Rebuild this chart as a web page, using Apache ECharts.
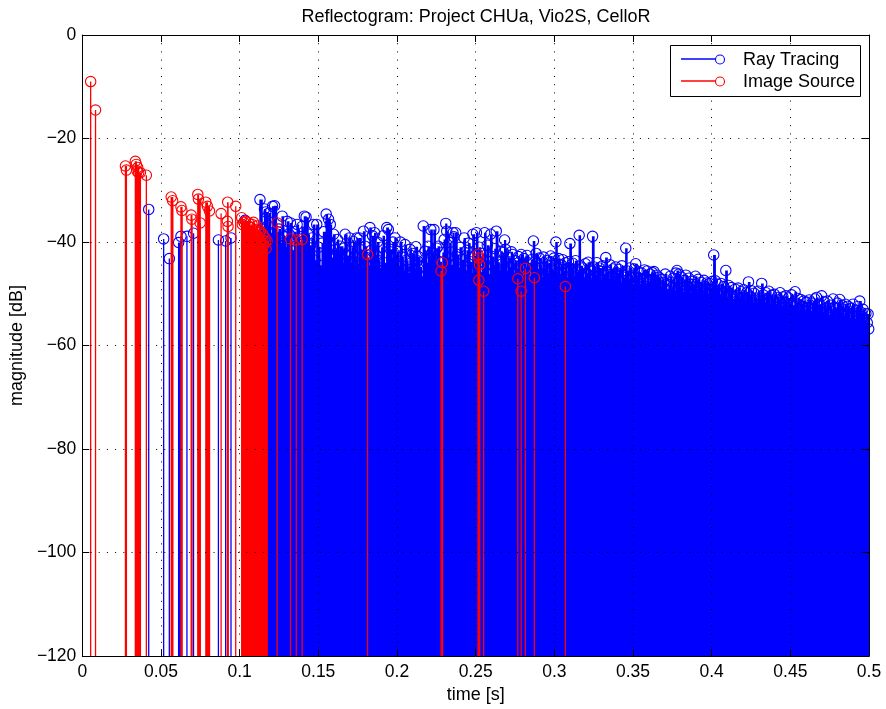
<!DOCTYPE html>
<html><head><meta charset="utf-8">
<script src="https://cdn.jsdelivr.net/npm/echarts@6/dist/echarts.min.js"></script>
<style>html,body{margin:0;padding:0;background:#fff}#c{width:886px;height:709px}</style>
</head><body><div id="c"></div>
<script>
const chartTitle = 'Reflectogram: Project CHUa, Vio2S, CelloR';
const seriesNames = ['Ray Tracing', 'Image Source'];
const xName = 'time [s]';
const yName = 'magnitude [dB]';
const xTicks = [0, 0.05, 0.1, 0.15, 0.2, 0.25, 0.3, 0.35, 0.4, 0.45, 0.5];
const yTicks = [-120, -100, -80, -60, -40, -20, 0];

// [time in ms, magnitude in dB]
const rayTracing = [
[42.2,-33.7],[51.7,-39.4],[55.3,-43.2],[61.2,-40.1],[62.7,-38.9],[66.5,-38.9],[70.7,-38.3],[86.5,-39.6],[91.1,-39.8],[94.5,-39.2],
[103.4,-35.8],[105.9,-38.6],[108.1,-40.2],[110.2,-39.0],[112.9,-31.8],[114.3,-37.5],[115.8,-33.6],[116.6,-34.2],[117.9,-36.8],[118.6,-34.4],
[119.7,-38.2],[120.9,-33.1],[122.2,-33.0],[123.4,-41.1],[124.2,-38.0],[125.0,-37.5],[126.0,-40.2],[127.0,-35.0],[127.8,-38.8],[128.5,-39.0],
[129.4,-41.0],[130.2,-36.0],[131.3,-38.4],[132.3,-36.3],[133.3,-41.7],[134.8,-38.0],[135.7,-40.8],[136.5,-36.6],[137.4,-39.2],[138.2,-40.5],
[139.6,-37.0],[140.4,-39.8],[141.1,-35.0],[142.2,-35.2],
[143.5,-38.5],[144.3,-42.0],[145.1,-40.6],[146.0,-39.2],[146.9,-36.6],[147.8,-43.5],[149.0,-36.6],[150.2,-41.0],[151.0,-44.5],[152.4,-40.2],
[153.3,-38.0],[155.0,-34.6],[155.8,-41.8],[156.5,-35.6],[157.6,-36.6],[158.4,-43.0],[159.7,-38.5],[160.6,-41.5],[161.5,-45.0],[162.2,-39.5],
[162.9,-42.1],[164.0,-40.8],[165.6,-44.0],[166.3,-41.2],[167.0,-38.5],[168.2,-42.6],[169.8,-39.2],[170.7,-43.8],[171.6,-41.0],[172.3,-39.9],
[173.5,-42.8],[174.5,-39.2],[175.3,-44.2],[176.1,-39.2],[177.0,-41.5],[178.7,-37.9],[179.7,-40.8],[180.6,-43.0],[181.8,-44.5],[182.8,-37.2],
[183.6,-41.6],[184.5,-38.8],[185.8,-38.2],[186.7,-42.5],[187.6,-40.0],[188.5,-43.6],[189.2,-45.0],[190.3,-41.0],[191.2,-38.8],[192.0,-44.0],
[193.5,-37.2],[194.5,-37.6],[195.6,-41.4],[196.6,-43.2],[197.4,-40.0],[198.7,-39.2],[199.5,-42.5],
[200.4,-41.8],[201.3,-44.6],[202.2,-40.0],[203.1,-42.9],[204.0,-45.5],[205.1,-40.5],[206.0,-43.5],[207.0,-46.0],[208.2,-41.4],[209.1,-44.0],
[210.0,-42.2],[211.1,-45.2],[212.0,-40.9],[213.0,-43.6],[213.5,-42.8],[214.6,-44.8],[215.6,-46.6],[216.3,-46.9],[216.7,-36.9],[217.8,-41.8],
[218.7,-44.0],[219.8,-40.8],[220.8,-43.2],[221.5,-37.6],[222.4,-42.0],[223.5,-37.6],[224.4,-44.5],[225.3,-41.2],[226.2,-40.8],[227.1,-43.8],
[228.3,-45.6],[229.2,-42.0],[230.0,-39.5],[231.0,-36.4],[231.6,-37.9],[232.5,-43.0],[233.5,-40.1],[234.4,-44.4],[235.6,-38.2],[236.2,-39.0],
[237.3,-38.2],[238.2,-42.4],[239.2,-44.9],[240.1,-41.0],[241.2,-43.4],[242.7,-39.2],[243.5,-45.5],[244.5,-41.6],[245.5,-40.2],[246.4,-43.8],
[247.4,-46.0],[248.2,-38.5],[249.2,-42.6],[250.5,-38.2],
[251.4,-44.2],[252.3,-41.0],[253.2,-45.8],[254.3,-42.2],[255.7,-38.2],[256.5,-43.5],[257.4,-40.6],[258.4,-46.2],[259.5,-38.5],[260.4,-42.8],
[261.3,-44.6],[262.2,-41.3],[263.1,-37.9],[264.1,-43.9],[265.0,-45.4],[266.0,-41.8],[266.9,-44.2],[267.8,-42.0],[268.4,-39.6],[269.0,-41.4],
[270.0,-45.8],[270.9,-43.0],[271.8,-44.8],[272.7,-41.9],[273.4,-42.4],[274.4,-46.0],[275.3,-43.6],[276.3,-45.2],[277.2,-42.8],[278.1,-44.6],
[278.9,-42.4],[279.8,-46.4],[280.7,-43.2],[281.7,-45.0],[282.6,-42.6],[283.5,-44.0],[284.5,-46.6],[285.4,-43.4],[286.7,-39.8],[287.5,-44.8],
[288.4,-42.2],[289.4,-45.6],[290.5,-43.1],[291.3,-44.4],[292.2,-46.8],[293.1,-42.9],[294.0,-45.0],[295.0,-43.6],[295.9,-46.2],[296.8,-44.0],
[297.7,-42.7],[298.6,-45.4],[299.8,-43.1],[301.0,-40.0],
[301.8,-45.8],[302.7,-43.2],[303.6,-46.4],[304.5,-44.4],[305.3,-43.4],[306.2,-45.6],[307.2,-44.0],[308.1,-46.8],[309.0,-43.8],[309.9,-40.3],
[310.8,-45.2],[311.7,-44.1],[312.6,-46.6],[313.5,-43.6],[314.5,-45.8],[315.8,-38.7],[316.6,-44.6],[317.9,-45.0],[318.8,-47.0],[319.7,-44.2],
[320.6,-46.0],[321.5,-43.9],[322.4,-45.4],[323.3,-47.2],[324.3,-38.9],[325.2,-44.8],[326.1,-46.4],[327.0,-44.0],[328.0,-45.5],[328.5,-45.0],
[329.8,-47.4],[330.7,-44.6],[331.6,-46.2],[332.7,-43.0],[333.6,-45.8],[334.5,-47.0],[335.4,-44.4],[336.3,-46.6],[337.2,-45.2],[338.1,-47.6],
[339.0,-44.8],[340.0,-46.0],[341.1,-45.3],[342.0,-47.8],[342.9,-44.6],[343.8,-46.8],[345.4,-41.2],[346.2,-45.6],[347.1,-47.2],[348.0,-45.0],
[349.0,-46.4],[349.9,-48.0],
[350.8,-45.2],[351.7,-44.2],[352.6,-47.0],[353.5,-45.8],[354.5,-48.2],[355.4,-46.0],[356.3,-47.4],[357.2,-45.4],[358.1,-48.6],[359.0,-45.6],
[359.9,-47.6],[360.8,-46.2],[361.7,-48.8],[362.2,-45.9],[363.3,-45.7],[364.2,-47.8],[365.1,-46.4],[366.5,-46.8],[367.4,-49.0],[368.3,-47.2],
[369.6,-47.8],[370.5,-46.2],[371.4,-49.2],[372.8,-48.2],[373.7,-46.6],[374.6,-48.8],[375.5,-47.0],[376.4,-49.4],[377.3,-46.0],[378.0,-45.5],
[379.1,-46.2],[380.0,-48.4],[380.9,-46.8],[381.8,-49.6],[382.7,-47.4],[383.6,-46.4],[384.6,-48.6],[385.5,-47.0],[386.4,-49.8],[387.3,-47.6],
[388.2,-48.2],[389.7,-46.6],[390.6,-49.0],[391.5,-47.2],[392.4,-48.8],[393.3,-47.8],[394.2,-50.0],[395.1,-47.4],[396.0,-48.6],[396.9,-47.9],
[397.8,-50.2],[398.7,-48.0],[399.6,-49.2],
[400.5,-47.6],[401.3,-42.5],[402.3,-47.5],[403.2,-49.6],[404.1,-48.2],[405.0,-50.4],[405.9,-48.0],[406.8,-49.4],[407.7,-48.6],[409.0,-45.5],
[409.9,-50.6],[410.8,-48.4],[411.7,-50.0],[412.6,-48.8],[413.5,-51.0],[415.0,-49.1],[415.9,-50.4],[416.8,-48.9],[417.7,-51.2],[418.6,-49.6],
[419.5,-50.8],[420.4,-49.2],[421.3,-51.4],[422.2,-49.8],[423.4,-47.7],[424.3,-50.6],[425.2,-49.4],[426.1,-51.6],[427.0,-49.9],[427.9,-50.8],
[428.8,-52.0],[429.7,-49.5],[430.6,-51.0],[431.8,-48.0],[432.7,-50.2],[433.6,-51.8],[434.5,-49.8],[435.4,-50.9],[436.3,-49.5],[437.2,-52.2],
[438.1,-50.3],[439.0,-51.4],[439.9,-50.1],[440.8,-52.4],[441.7,-50.7],[442.6,-51.2],[443.5,-49.8],[444.4,-52.6],[445.3,-50.6],[446.2,-51.6],
[447.1,-50.4],[448.0,-52.8],[448.9,-50.8],[449.8,-51.9],
[450.7,-50.2],[451.6,-52.2],[453.0,-49.6],[453.9,-51.8],[454.8,-50.9],[455.7,-53.0],[456.6,-51.1],[457.5,-52.4],[458.4,-51.4],[459.3,-53.4],
[460.2,-51.6],[461.1,-52.8],[462.0,-51.2],[462.9,-53.6],[463.8,-51.8],[464.7,-52.6],[465.6,-51.0],[466.7,-50.7],[467.6,-53.2],[468.5,-52.0],
[469.9,-50.4],[470.8,-53.8],[471.7,-51.6],[472.6,-52.9],[473.5,-51.4],[474.4,-54.0],[475.3,-52.2],[476.2,-53.4],[477.2,-51.0],[478.1,-52.6],
[479.0,-54.2],[479.9,-51.8],[481.4,-51.1],[482.3,-53.6],[483.2,-52.3],[484.1,-54.4],[485.0,-52.0],[485.9,-53.0],[486.8,-52.4],[487.7,-54.6],
[488.6,-52.8],[489.9,-52.0],[490.8,-54.8],[491.7,-53.2],[492.6,-52.5],[493.5,-55.0],[494.1,-51.4],[495.0,-53.6],[495.9,-54.4],[496.2,-53.0],
[497.1,-55.2],[498.0,-53.8],[498.9,-55.6],[499.4,-53.9],[499.8,-56.8]
];

const imageSource = [
[5.3,-9.0],[8.4,-14.5],[27.4,-25.3],[28.0,-26.1],[33.7,-24.4],[34.3,-25.0],[34.8,-26.3],[35.2,-25.6],[35.8,-26.6],[36.9,-26.6],[40.7,-27.1],
[56.5,-31.3],[57.4,-32.0],[62.7,-33.2],[63.3,-33.9],[69.2,-34.8],[69.6,-35.6],[73.4,-30.8],[73.8,-31.7],[74.9,-36.3],[78.5,-32.3],[79.5,-33.1],
[80.8,-34.0],[88.2,-34.5],[92.2,-36.0],[92.4,-32.3],[92.6,-37.0],[97.5,-33.1],[101.3,-35.3],[101.7,-36.6],
[102.6,-36.2],[103.7,-36.0],[104.4,-37.4],[105.0,-38.8],[105.6,-36.3],[106.2,-37.0],[106.8,-38.2],[107.3,-37.2],[107.9,-36.6],[108.5,-39.8],
[108.8,-36.2],[109.4,-39.5],[109.9,-37.9],[110.5,-38.6],[111.0,-36.9],[111.4,-38.9],[112.0,-37.6],[112.5,-38.2],[113.1,-37.9],[113.6,-40.4],
[114.2,-39.5],[114.8,-38.5],[115.3,-40.6],[116.0,-39.2],[116.3,-40.0],[116.8,-41.3],[117.4,-39.8],
[123.8,-36.3],[132.3,-39.4],[136.0,-39.6],[139.7,-39.5],
[181.3,-42.4],[228.0,-45.6],[228.9,-44.0],[251.5,-42.4],[251.9,-43.1],[252.0,-47.4],[252.5,-44.4],[255.1,-49.5],
[276.8,-47.1],[278.9,-49.5],[281.6,-45.1],[287.3,-46.9],[307.0,-48.6]
];

const FONT = "'Liberation Sans', Arial, Helvetica, sans-serif";
const BLUE = '#0000ff', RED = '#ff0000';

function toSeconds(list) { return list.map(p => [p[0] / 1000, p[1]]); }
const rayData = toSeconds(rayTracing);
const isData = toSeconds(imageSource);

// Stem from the marker down to the axis floor; where the next stem is closer
// than a few pixels the stems merge, as the densely packed originals do.
function stemRenderer(color, list) {
  return function (params, api) {
    const i = params.dataIndex;
    const t = api.value(0), m = api.value(1);
    const top = api.coord([t, m]);
    const bot = api.coord([t, yTicks[0]]);
    let x0 = top[0] - 0.65, x1 = top[0] + 0.65;
    if (i + 1 < list.length) {
      const nx = api.coord([list[i + 1][0], yTicks[0]])[0];
      if (nx - top[0] < 2.8) x1 = Math.max(x1, nx + 0.65);
    }
    return {
      type: 'group',
      children: [
        { type: 'rect', shape: { x: x0, y: top[1], width: x1 - x0, height: bot[1] - top[1] },
          style: { fill: color, stroke: null } },
        { type: 'circle', shape: { cx: top[0], cy: top[1], r: 5.2 },
          style: { fill: null, stroke: color, lineWidth: 1.1 } }
      ]
    };
  };
}

const minus = v => String(v).replace('-', '\u2212');
const grid = { lineStyle: { color: '#000', width: 1, type: [1, 7.2] } };
const tick = { show: true, inside: true, length: 7, lineStyle: { color: '#000', width: 1 } };
const axLine = { show: true, onZero: false, lineStyle: { color: '#000', width: 1 } };

const chart = echarts.init(document.getElementById('c'), null, { renderer: 'canvas' });
chart.setOption({
  animation: false,
  backgroundColor: '#fff',
  title: {
    text: chartTitle, left: 476, top: 8, padding: 0, textAlign: 'center',
    textStyle: { fontFamily: FONT, fontSize: 18, fontWeight: 'normal', color: '#000' }
  },
  grid: { left: 81, right: 17, top: 35, bottom: 52, show: false },
  xAxis: [{
    type: 'value', min: xTicks[0], max: xTicks[xTicks.length - 1], interval: 0.05, z: 5,
    name: xName, nameLocation: 'middle', nameGap: 24,
    nameTextStyle: { fontFamily: FONT, fontSize: 18, color: '#000' },
    axisLine: axLine, axisTick: tick,
    axisLabel: { margin: 7, fontFamily: FONT, fontSize: 17.5, color: '#000', formatter: v => String(+v.toFixed(2)) },
    splitLine: { show: true, ...grid }
  }, {
    type: 'value', position: 'top', min: xTicks[0], max: xTicks[xTicks.length - 1], interval: 0.05, z: 5,
    axisLine: axLine, axisTick: tick,
    axisLabel: { show: false }, splitLine: { show: false }
  }],
  yAxis: [{
    type: 'value', min: yTicks[0], max: yTicks[yTicks.length - 1], interval: 20, z: 5,
    name: yName, nameLocation: 'middle', nameGap: 54,
    nameTextStyle: { fontFamily: FONT, fontSize: 18, color: '#000' },
    axisLine: axLine, axisTick: tick,
    axisLabel: { margin: 6, fontFamily: FONT, fontSize: 17.5, color: '#000', formatter: minus },
    splitLine: { show: true, ...grid }
  }, {
    type: 'value', position: 'right', min: yTicks[0], max: yTicks[yTicks.length - 1], interval: 20, z: 5,
    axisLine: axLine, axisTick: tick,
    axisLabel: { show: false }, splitLine: { show: false }
  }],
  series: [{
    name: seriesNames[0], type: 'custom', clip: false, z: 2, progressive: 0,
    renderItem: stemRenderer(BLUE, rayData), encode: { x: 0, y: 1 },
    data: rayData
  }, {
    name: seriesNames[1], type: 'custom', clip: false, z: 3, progressive: 0,
    renderItem: stemRenderer(RED, isData), encode: { x: 0, y: 1 },
    data: isData
  }],
  graphic: [
    { type: 'rect', z: 100, shape: { x: 670.5, y: 45.5, width: 190, height: 51 },
      style: { fill: '#fff', stroke: '#000', lineWidth: 1 } },
    { type: 'line', z: 101, shape: { x1: 681, y1: 59, x2: 715.5, y2: 59 }, style: { stroke: BLUE, lineWidth: 1.5 } },
    { type: 'circle', z: 101, shape: { cx: 720, cy: 59.5, r: 4.5 }, style: { fill: null, stroke: BLUE, lineWidth: 1.1 } },
    { type: 'text', z: 101, x: 743, y: 60, style: { text: seriesNames[0], fontFamily: FONT, fontSize: 18, fill: '#000', verticalAlign: 'middle' } },
    { type: 'line', z: 101, shape: { x1: 681, y1: 81, x2: 715.5, y2: 81 }, style: { stroke: RED, lineWidth: 1.5 } },
    { type: 'circle', z: 101, shape: { cx: 720, cy: 81.5, r: 4.5 }, style: { fill: null, stroke: RED, lineWidth: 1.1 } },
    { type: 'text', z: 101, x: 743, y: 82, style: { text: seriesNames[1], fontFamily: FONT, fontSize: 18, fill: '#000', verticalAlign: 'middle' } }
  ]
});
</script></body></html>
